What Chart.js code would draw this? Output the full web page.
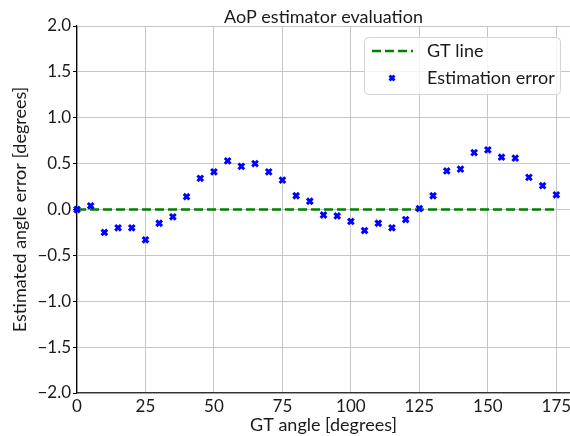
<!DOCTYPE html>
<html>
<head>
<meta charset="utf-8">
<script src="https://cdn.jsdelivr.net/npm/chart.js@4/dist/chart.umd.min.js"></script>
<style>
  html, body { margin: 0; padding: 0; background: #fff; }
  #wrap { width: 570px; height: 436px; }
</style>
</head>
<body>
<div id="wrap"><canvas id="aopChart" width="570" height="436"></canvas></div>
<script>
// GT angles (degrees) and the estimator's error at each one.
const ANGLES = [0, 5, 10, 15, 20, 25, 30, 35, 40, 45, 50, 55, 60, 65, 70, 75, 80, 85,
    90, 95, 100, 105, 110, 115, 120, 125, 130, 135, 140, 145, 150, 155, 160, 165, 170, 175];
const ERRORS = [0.00, 0.04, -0.25, -0.20, -0.20, -0.33, -0.15, -0.08, 0.14, 0.34, 0.41, 0.53,
    0.47, 0.50, 0.41, 0.32, 0.15, 0.09, -0.06, -0.07, -0.13, -0.23, -0.15, -0.20, -0.11, 0.01,
    0.15, 0.42, 0.44, 0.62, 0.65, 0.57, 0.56, 0.35, 0.26, 0.16];
const GT_LINE = ANGLES.map(() => 0);
const X_TICKS = [0, 25, 50, 75, 100, 125, 150, 175];

const FONT = "Lato, 'DejaVu Sans', sans-serif";
const TEXT = "#1a1a1a";
const GRID = "#c6c6c6";

// Title centred over the plot area (matplotlib style), not the whole canvas.
const plotTitle = {
    id: "plotTitle",
    afterDraw(chart) {
        const { ctx, chartArea } = chart;
        ctx.save();
        ctx.fillStyle = TEXT;
        ctx.font = "18px " + FONT;
        ctx.textAlign = "center";
        ctx.textBaseline = "alphabetic";
        ctx.fillText("AoP estimator evaluation", (chartArea.left + chartArea.right) / 2, 22.5);
        ctx.restore();
    },
};

// matplotlib-style legend box inside the plot area (upper right)
const insideLegend = {
    id: "insideLegend",
    afterDraw(chart) {
        const ctx = chart.ctx;
        const ds = chart.data.datasets;
        const x0 = 364, y0 = 37, w = 196, h = 57;
        ctx.save();
        ctx.fillStyle = "rgba(255,255,255,0.8)";
        ctx.strokeStyle = "#d4d4d4";
        ctx.lineWidth = 1;
        ctx.beginPath();
        ctx.roundRect(x0 + 0.5, y0 + 0.5, w, h, 4);
        ctx.fill();
        ctx.stroke();

        // GT line sample
        ctx.strokeStyle = ds[0].borderColor;
        ctx.lineWidth = ds[0].borderWidth;
        ctx.setLineDash(ds[0].borderDash);
        ctx.beginPath();
        ctx.moveTo(372, 51);
        ctx.lineTo(413, 51);
        ctx.stroke();
        ctx.setLineDash([]);

        // marker sample
        ctx.strokeStyle = ds[1].borderColor;
        ctx.fillStyle = ds[1].backgroundColor;
        ctx.lineWidth = ds[1].pointBorderWidth;
        Chart.helpers.drawPoint(ctx, {
            pointStyle: ds[1].pointStyle,
            radius: 3.5,
            borderWidth: ds[1].pointBorderWidth,
        }, 392, 78);

        ctx.fillStyle = TEXT;
        ctx.font = "18px " + FONT;
        ctx.textBaseline = "middle";
        ctx.fillText(ds[0].label, 427, 51);
        ctx.fillText(ds[1].label, 427, 78);
        ctx.restore();
    },
};

const fmtY = (v) => v.toFixed(1).replace("-", "\u2212");

new Chart(document.getElementById("aopChart").getContext("2d"), {
    type: "line",
    data: {
        labels: ANGLES,
        datasets: [
            {
                label: "GT line",
                data: ANGLES.map((a, i) => ({ x: a, y: GT_LINE[i] })),
                borderColor: "#008000",
                borderWidth: 2.5,
                borderDash: [9, 4],
                pointRadius: 0,
                fill: false,
                order: 2,
            },
            {
                label: "Estimation error",
                data: ANGLES.map((a, i) => ({ x: a, y: ERRORS[i] })),
                showLine: false,
                borderColor: "#0000ff",
                backgroundColor: "#0000ff",
                pointStyle: "crossRot",
                pointRadius: 4,
                pointBorderWidth: 3,
                borderWidth: 3,
                clip: false,
                order: 1,
            },
        ],
    },
    options: {
        responsive: false,
        animation: false,
        layout: { autoPadding: false, padding: { left: 0, right: 0, top: 26, bottom: 0 } },
        plugins: {
            legend: { display: false },
            tooltip: { enabled: false },
            title: { display: false },
        },
        scales: {
            x: {
                type: "linear",
                min: 0,
                max: 180,
                afterBuildTicks: (axis) => { axis.ticks = X_TICKS.map((v) => ({ value: v })); },
                afterFit: (axis) => {
                    axis.height = 43;
                    axis.paddingLeft = 0;
                    axis.paddingRight = 0;
                },
                grid: { color: GRID, drawTicks: false },
                border: { color: "#333", width: 1.2 },
                ticks: {
                    color: TEXT,
                    padding: 3,
                    maxRotation: 0,
                    font: { family: FONT, size: 17 },
                },
                title: {
                    display: true,
                    text: "GT angle [degrees]",
                    color: TEXT,
                    padding: { top: 0, bottom: 0 },
                    font: { family: FONT, size: 18 },
                },
            },
            y: {
                min: -2,
                max: 2,
                afterFit: (axis) => { axis.width = 77; },
                grid: { color: GRID, tickColor: "#000", tickLength: 4 },
                border: { color: "#000", width: 1.2 },
                ticks: {
                    stepSize: 0.5,
                    color: TEXT,
                    padding: 2,
                    font: { family: FONT, size: 17 },
                    callback: fmtY,
                },
                title: {
                    display: true,
                    text: "Estimated angle error [degrees]",
                    color: TEXT,
                    padding: { top: 9, bottom: 0 },
                    font: { family: FONT, size: 18 },
                },
            },
        },
    },
    plugins: [plotTitle, insideLegend],
});
</script>
</body>
</html>
